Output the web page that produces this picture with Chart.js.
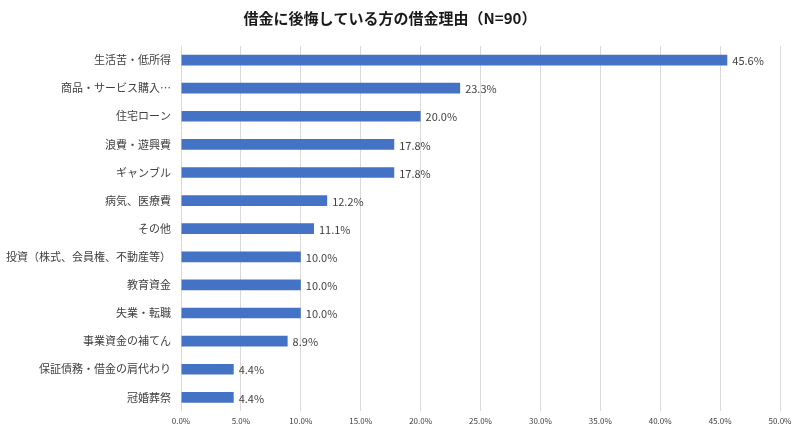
<!DOCTYPE html>
<html>
<head>
<meta charset="utf-8">
<script src="https://cdn.jsdelivr.net/npm/chart.js@4/dist/chart.umd.min.js"></script>
<style>
  html, body { margin: 0; padding: 0; background: #fff; }
  #wrap { width: 800px; height: 431px; }
</style>
</head>
<body>
<div id="wrap"><canvas id="riyuChart"></canvas></div>
<script>
const categories = [
  "生活苦・低所得", "商品・サービス購入…", "住宅ローン", "浪費・遊興費", "ギャンブル",
  "病気、医療費", "その他", "投資（株式、会員権、不動産等）", "教育資金", "失業・転職",
  "事業資金の補てん", "保証債務・借金の肩代わり", "冠婚葬祭"
];
const values = [45.6, 23.3, 20.0, 17.8, 17.8, 12.2, 11.1, 10.0, 10.0, 10.0, 8.9, 4.4, 4.4];
const xTicks = [0, 5, 10, 15, 20, 25, 30, 35, 40, 45, 50];

const FONT = "'Noto Sans CJK JP', 'Noto Sans', sans-serif";

// ===== value labels at bar end =====
const barLabels = {
  id: "barLabels",
  afterDatasetsDraw(chart) {
    const ctx = chart.ctx;
    const meta = chart.getDatasetMeta(0);
    ctx.save();
    ctx.font = "11px " + FONT;
    ctx.fillStyle = "#404040";
    ctx.textAlign = "left";
    ctx.textBaseline = "middle";
    meta.data.forEach((bar, i) => {
      ctx.fillText(values[i].toFixed(1) + "%", bar.x + 5, bar.y + 1);
    });
    ctx.restore();
  }
};

new Chart(document.getElementById("riyuChart"), {
  type: "bar",
  data: {
    labels: categories,
    datasets: [{
      data: values,
      backgroundColor: "#4472C4",
      barPercentage: 0.76,
      categoryPercentage: 0.5
    }]
  },
  options: {
    indexAxis: "y",
    responsive: true,
    maintainAspectRatio: false,
    animation: false,
    layout: { padding: { left: 0, right: 20, top: 0, bottom: 0 } },
    plugins: {
      legend: { display: false },
      tooltip: { enabled: false },
      title: {
        display: true,
        text: "借金に後悔している方の借金理由（N=90）",
        color: "#1a1a1a",
        font: { family: FONT, size: 15, weight: "bold" },
        padding: { top: 9, bottom: 19 }
      }
    },
    scales: {
      x: {
        min: 0,
        max: 50,
        afterBuildTicks(scale) {
          scale.ticks = xTicks.map(v => ({ value: v }));
        },
        grid: { color: "#d9d9d9", drawTicks: false },
        border: { display: false },
        ticks: {
          color: "#404040",
          font: { family: FONT, size: 8 },
          padding: 5,
          callback: v => v.toFixed(1) + "%"
        }
      },
      y: {
        grid: { display: false },
        border: { display: false },
        afterFit(scale) { scale.width = 181; },
        ticks: {
          color: "#404040",
          font: { family: FONT, size: 11 },
          padding: 2
        }
      }
    }
  },
  plugins: [barLabels]
});
</script>
</body>
</html>
